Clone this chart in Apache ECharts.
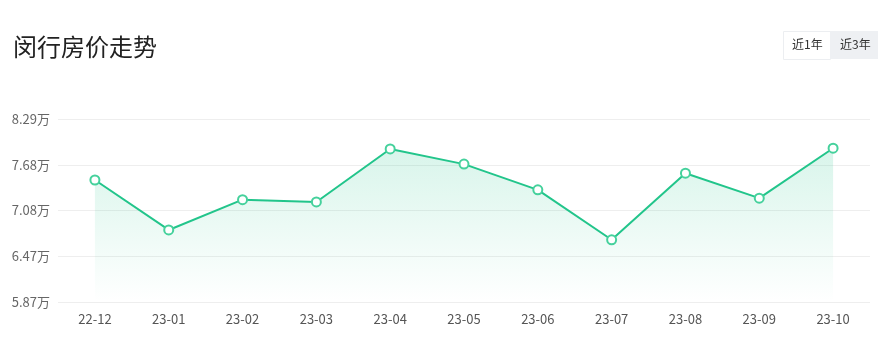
<!DOCTYPE html>
<html>
<head>
<meta charset="utf-8">
<script src="https://cdn.jsdelivr.net/npm/echarts@6/dist/echarts.min.js"></script>
<style>
  html, body { margin: 0; padding: 0; background: #fff; }
  #chart { width: 885px; height: 354px; }
</style>
</head>
<body>
<div id="chart"></div>
<script>
const months = ['22-12', '23-01', '23-02', '23-03', '23-04', '23-05', '23-06', '23-07', '23-08', '23-09', '23-10'];
const prices = [7.48, 6.82, 7.22, 7.19, 7.89, 7.69, 7.35, 6.69, 7.57, 7.24, 7.90];
const rangeButtons = ['近1年', '近3年'];

const chart = echarts.init(document.getElementById('chart'));
const font = '"Noto Sans CJK SC", "Noto Sans", sans-serif';

chart.setOption({
  backgroundColor: '#fff',
  title: {
    text: '闵行房价走势',
    left: 8,
    top: 30,
    textStyle: { fontSize: 24, fontWeight: 'normal', color: '#222', fontFamily: font },
  },
  grid: { top: 119, bottom: 52, left: 58, right: 15 },
  xAxis: {
    type: 'category',
    data: months,
    axisLine: { show: false },
    axisTick: { show: false },
    axisLabel: { color: '#555', fontSize: 13, margin: 11, fontFamily: font },
  },
  yAxis: {
    type: 'value',
    min: 5.868,
    max: 8.286,
    interval: 0.6045,
    axisLabel: {
      color: '#666',
      fontSize: 13,
      margin: 8,
      fontFamily: font,
      formatter: (v) => v.toFixed(2) + '万',
    },
    splitLine: { lineStyle: { color: '#eeeeee' } },
  },
  series: [{
    type: 'line',
    data: prices,
    symbol: 'emptyCircle',
    symbolSize: 9,
    lineStyle: { color: '#22c58b', width: 2 },
    itemStyle: { color: '#45d19c', borderWidth: 1.2 },
    areaStyle: {
      color: new echarts.graphic.LinearGradient(0, 0, 0, 1, [
        { offset: 0, color: 'rgba(34,197,139,0.25)' },
        { offset: 1, color: 'rgba(34,197,139,0)' },
      ]),
    },
  }],
  graphic: [
    {
      type: 'rect', left: 783, top: 31,
      shape: { width: 47, height: 28 },
      style: { fill: '#fff', stroke: '#eceef1', lineWidth: 1 },
    },
    {
      type: 'rect', left: 830, top: 31,
      shape: { width: 48, height: 28 },
      style: { fill: '#eef0f3' },
    },
    {
      type: 'text', left: 792, top: 38,
      style: { text: rangeButtons[0], fill: '#333', fontSize: 12, fontFamily: font },
    },
    {
      type: 'text', left: 840, top: 38,
      style: { text: rangeButtons[1], fill: '#333', fontSize: 12, fontFamily: font },
    },
  ],
});
</script>
</body>
</html>
